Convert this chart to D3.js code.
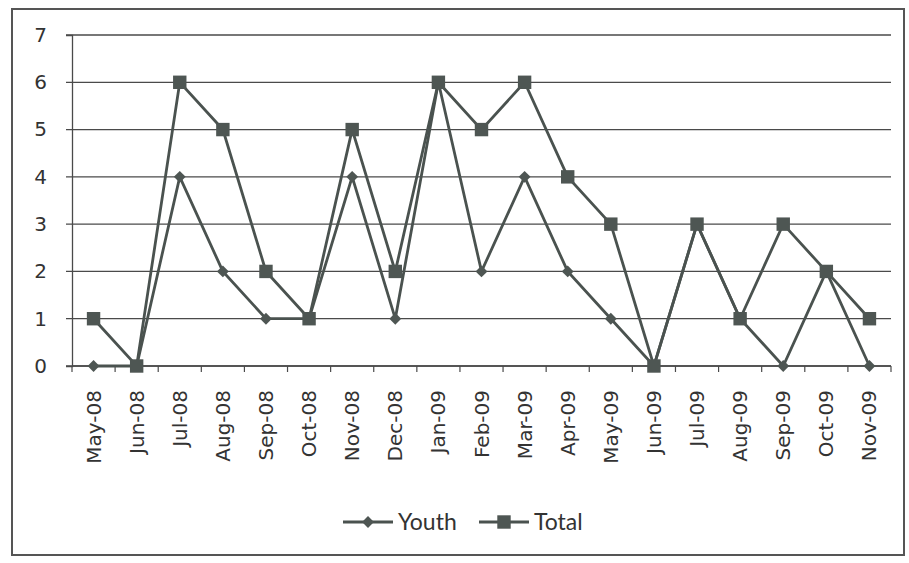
<!DOCTYPE html>
<html>
<head>
<meta charset="utf-8">
<script src="https://cdn.jsdelivr.net/npm/d3@7"></script>
<style>
  body { margin: 0; background: #fff; }
  svg text { font-family: "DejaVu Sans", sans-serif; fill: #333; }
</style>
</head>
<body>
<div id="chart"></div>
<script>
// months on the x axis
var months = ["May-08","Jun-08","Jul-08","Aug-08","Sep-08","Oct-08","Nov-08","Dec-08",
  "Jan-09","Feb-09","Mar-09","Apr-09","May-09","Jun-09","Jul-09","Aug-09","Sep-09","Oct-09","Nov-09"];
var youth = [0,0,4,2,1,1,4,1,6,2,4,2,1,0,3,1,0,2,0];
var total = [1,0,6,5,2,1,5,2,6,5,6,4,3,0,3,1,3,2,1];
var yTicks = [0,1,2,3,4,5,6,7];

var W = 909, H = 563;
var padL = 72, padR = 891, padT = 35, padB = 366;
var ink = "#4a524f";

var svg = d3.select("#chart").append("svg")
  .attr("width", W).attr("height", H);

// outer frame
svg.append("rect")
  .attr("x", 12).attr("y", 9).attr("width", 892).attr("height", 546)
  .attr("fill", "none").attr("stroke", "#555").attr("stroke-width", 2);

var x = d3.scaleBand().domain(months).range([padL, padR]);
var y = d3.scaleLinear().domain([0, 7]).range([padB, padT]);

// gridlines
svg.append("g").selectAll("line")
  .data(yTicks)
  .enter().append("line")
  .attr("x1", padL - 6).attr("x2", padR)
  .attr("y1", d => y(d)).attr("y2", d => y(d))
  .attr("stroke", "#4a4a4a").attr("stroke-width", 1.3);

// y axis
var yAxis = svg.append("g")
  .attr("transform", "translate(" + padL + ",0)")
  .call(d3.axisLeft(y).tickValues(yTicks).tickFormat(d3.format("d")).tickSize(6).tickPadding(19));
yAxis.select(".domain").attr("stroke", "#4a4a4a").attr("stroke-width", 1.3);
yAxis.selectAll(".tick line").remove();
yAxis.selectAll("text").style("font-size", "20px").attr("fill", "#333");

// x axis: ticks between categories
var xAxis = svg.append("g")
  .attr("transform", "translate(0," + padB + ")");
xAxis.append("line")
  .attr("x1", padL).attr("x2", padR).attr("y1", 0).attr("y2", 0)
  .attr("stroke", "#4a4a4a").attr("stroke-width", 1.3);
var bounds = months.map(m => x(m)).concat([padR]);
xAxis.selectAll("line.tk")
  .data(bounds)
  .enter().append("line").attr("class", "tk")
  .attr("x1", d => d).attr("x2", d => d)
  .attr("y1", 0).attr("y2", 6)
  .attr("stroke", "#4a4a4a").attr("stroke-width", 1.2);
xAxis.selectAll("text")
  .data(months)
  .enter().append("text")
  .attr("transform", d => "translate(" + (x(d) + x.bandwidth() / 2 + 7) + ",24) rotate(-90)")
  .attr("text-anchor", "end")
  .style("font-size", "20px")
  .text(d => d);

var cx = (d, i) => x(months[i]) + x.bandwidth() / 2;
var line = d3.line().x(cx).y(d => y(d));

var diamond = d3.symbol().type(d3.symbolSquare).size(70);
var square = d3.symbol().type(d3.symbolSquare).size(180);

function drawSeries(vals, sym, rot) {
  svg.append("path")
    .datum(vals)
    .attr("d", line)
    .attr("fill", "none")
    .attr("stroke", ink)
    .attr("stroke-width", 2.8);
  svg.append("g").selectAll("path")
    .data(vals)
    .enter().append("path")
    .attr("d", sym)
    .attr("transform", (d, i) => "translate(" + cx(d, i) + "," + y(d) + ") rotate(" + rot + ")")
    .attr("fill", "#4e5653");
}

drawSeries(youth, diamond, 45);
drawSeries(total, square, 0);

// legend
var leg = svg.append("g").attr("transform", "translate(0,522)");
var items = [
  { name: "Youth", sym: diamond, rot: 45, x: 343 },
  { name: "Total", sym: square, rot: 0, x: 479 }
];
items.forEach(function(it) {
  leg.append("line")
    .attr("x1", it.x).attr("x2", it.x + 50)
    .attr("stroke", ink).attr("stroke-width", 2.8);
  leg.append("path")
    .attr("d", it.sym)
    .attr("transform", "translate(" + (it.x + 25) + ",0) rotate(" + it.rot + ")")
    .attr("fill", "#4e5653");
  leg.append("text")
    .attr("x", it.x + 55).attr("y", 8)
    .style("font-family", "Lato, sans-serif")
    .style("font-size", "23px")
    .text(it.name);
});
</script>
</body>
</html>
